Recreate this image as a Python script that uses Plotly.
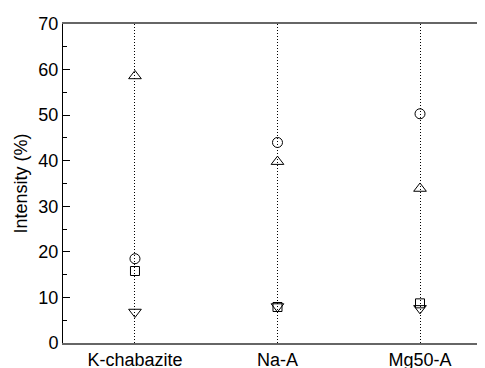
import plotly.graph_objects as go

categories = ["K-chabazite", "Na-A", "Mg50-A"]
circle_vals = [18.5, 44.0, 50.3]
square_vals = [15.8, 7.9, 8.7]
tri_up_vals = [58.6, 39.8, 33.9]
tri_down_vals = [6.8, 8.0, 7.6]
y_ticks = [0, 10, 20, 30, 40, 50, 60, 70]

x_idx = list(range(len(categories)))

fig = go.Figure()
series = [
    (circle_vals, "circle-open", 10),
    (square_vals, "square-open", 9),
    (tri_up_vals, "triangle-up-open", 11),
    (tri_down_vals, "triangle-down-open", 11),
]
for vals, sym, sz in series:
    fig.add_trace(go.Scatter(
        x=x_idx, y=vals, mode="markers",
        marker=dict(symbol=sym, size=sz, color="black", line=dict(width=1, color="black")),
        showlegend=False, cliponaxis=False,
    ))

font = dict(family="Liberation Sans, Arial, sans-serif", size=18, color="black")

# page body has an 8px margin, so the figure is offset by (8, 8)
fig.update_layout(
    width=477, height=360,
    margin=dict(l=55, r=0, t=16, b=25, pad=0),
    paper_bgcolor="white", plot_bgcolor="white",
    font=font,
    xaxis=dict(
        range=[-0.505, 2.456],
        tickvals=x_idx, ticktext=categories,
        showgrid=True, gridcolor="black", gridwidth=1, griddash="1px,2px",
        showline=True, linecolor="#666666", linewidth=1.5, mirror=True,
        ticks="", zeroline=False, automargin=False,
        tickfont=font,
    ),
    yaxis=dict(
        range=[0, 70],
        tickvals=y_ticks,
        showgrid=False, zeroline=False,
        showline=True, linecolor="black", linewidth=1, mirror=False,
        ticks="inside", ticklen=7, tickcolor="black", tickwidth=1,
        minor=dict(dtick=5, ticks="inside", ticklen=4, tickcolor="black", tickwidth=1, showgrid=False),
        title=dict(text="Intensity (%)", font=font, standoff=6),
        automargin=False, tickfont=font,
    ),
)

fig.write_html("out.html")
